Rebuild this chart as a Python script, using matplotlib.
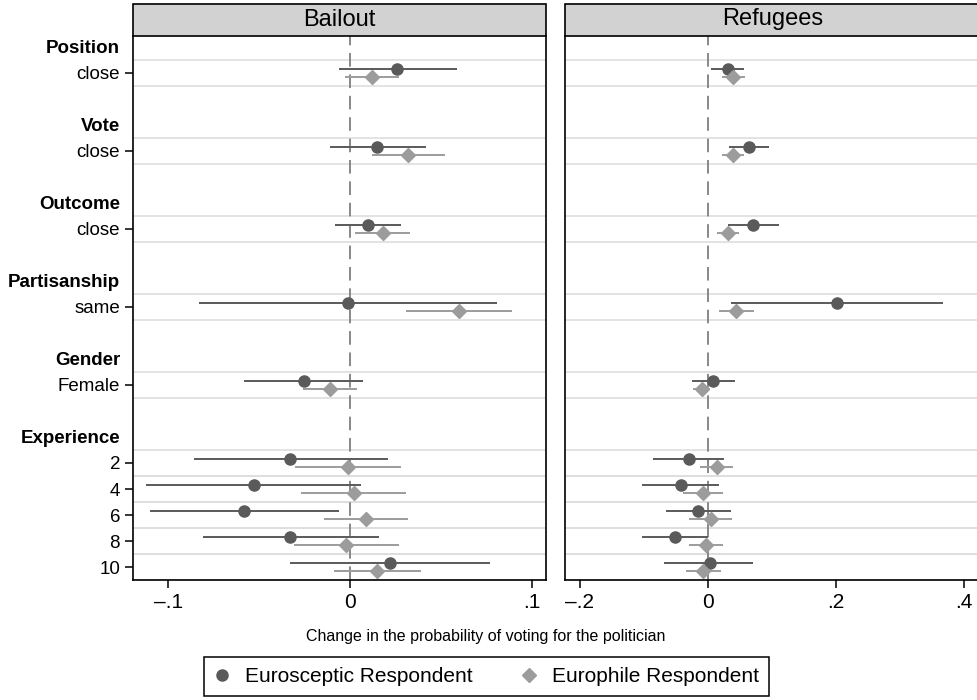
import numpy as np
import matplotlib.pyplot as plt
from matplotlib.patches import Rectangle
from matplotlib.lines import Line2D

plt.rcParams['font.family'] = ['Liberation Sans', 'DejaVu Sans']

# rows of the coefficient plot (top to bottom)
row_labels = ["close", "close", "close", "same", "Female", "2", "4", "6", "8", "10"]
row_pos = [19, 16, 13, 10, 7, 4, 3, 2, 1, 0]
group_labels = ["Position", "Vote", "Outcome", "Partisanship", "Gender", "Experience"]
group_pos = [20, 17, 14, 11, 8, 5]

# Bailout: point estimates and 95% CI
bail_scep = [0.026, 0.015, 0.010, -0.001, -0.025, -0.033, -0.053, -0.058, -0.033, 0.022]
bail_scep_lo = [-0.006, -0.011, -0.008, -0.083, -0.058, -0.086, -0.112, -0.110, -0.081, -0.033]
bail_scep_hi = [0.059, 0.042, 0.028, 0.081, 0.007, 0.021, 0.006, -0.006, 0.016, 0.077]
bail_phil = [0.012, 0.032, 0.018, 0.060, -0.011, -0.001, 0.002, 0.009, -0.002, 0.015]
bail_phil_lo = [-0.003, 0.012, 0.003, 0.031, -0.026, -0.030, -0.027, -0.014, -0.031, -0.009]
bail_phil_hi = [0.027, 0.052, 0.033, 0.089, 0.004, 0.028, 0.031, 0.032, 0.027, 0.039]

# Refugees
ref_scep = [0.031, 0.064, 0.070, 0.202, 0.009, -0.030, -0.042, -0.015, -0.051, 0.003]
ref_scep_lo = [0.005, 0.034, 0.031, 0.037, -0.024, -0.085, -0.102, -0.065, -0.102, -0.068]
ref_scep_hi = [0.056, 0.096, 0.111, 0.368, 0.042, 0.026, 0.018, 0.036, 0.000, 0.070]
ref_phil = [0.040, 0.040, 0.031, 0.044, -0.009, 0.014, -0.008, 0.005, -0.003, -0.007]
ref_phil_lo = [0.023, 0.022, 0.014, 0.017, -0.023, -0.012, -0.039, -0.029, -0.030, -0.034]
ref_phil_hi = [0.059, 0.057, 0.049, 0.072, 0.004, 0.040, 0.024, 0.038, 0.024, 0.021]

scep_color = "#5a5a5a"
phil_color = "#9c9c9c"
off = 0.17

W, H = 977, 700
fig = plt.figure(figsize=(W / 100, H / 100), dpi=100)
bot, top = 579.5, 36.0
right2 = 980.0
ax1 = fig.add_axes([132.6 / W, 1 - bot / H, (546.4 - 132.6) / W, (bot - top) / H])
ax2 = fig.add_axes([565.0 / W, 1 - bot / H, (right2 - 565.0) / W, (bot - top) / H])


def panel(ax, title, scep, slo, shi, phil, plo, phi, xlim, ticks, ticklabels):
    y = np.array(row_pos, dtype=float)
    for r in row_pos:
        ax.axhline(r - 0.5, color="#dedede", lw=1.2, zorder=0)
        ax.axhline(r + 0.5, color="#dedede", lw=1.2, zorder=0)
    ax.axvline(0, color="#888888", lw=1.4, dashes=(7, 4), zorder=1)
    ax.hlines(y + off, slo, shi, color=scep_color, lw=1.4, zorder=2)
    ax.hlines(y - off, plo, phi, color=phil_color, lw=1.4, zorder=2)
    ax.plot(scep, y + off, "o", ms=8, color=scep_color, mec=scep_color, zorder=3)
    ax.plot(phil, y - off, "D", ms=7.2, color=phil_color, mec=phil_color, zorder=3)
    ax.set_xlim(*xlim)
    ax.set_ylim(-0.48, 20.42)
    ax.set_xticks(ticks)
    ax.set_xticklabels(ticklabels, fontsize=15)
    ax.tick_params(axis="x", length=6, width=1.1, pad=4)
    for s in ax.spines.values():
        s.set_linewidth(1.2)
    ax.spines["top"].set_visible(False)
    ax.add_patch(Rectangle((0, 1), 1, 32.5 / (bot - top), transform=ax.transAxes,
                           clip_on=False, fc="#d2d2d2", ec="black", lw=1.2))
    ax.text(0.5, 1 + 16.5 / (bot - top), title, transform=ax.transAxes,
            ha="center", va="center", fontsize=17)


panel(ax1, "Bailout", bail_scep, bail_scep_lo, bail_scep_hi,
      bail_phil, bail_phil_lo, bail_phil_hi,
      (-0.1195, 0.108), [-0.1, 0, 0.1], ["\u2013.1", "0", ".1"])
panel(ax2, "Refugees", ref_scep, ref_scep_lo, ref_scep_hi,
      ref_phil, ref_phil_lo, ref_phil_hi,
      (-0.223, (right2 - 707.7) / 640), [-0.2, 0, 0.2, 0.4], ["\u2013.2", "0", ".2", ".4"])

# y axis: row labels with ticks, group headers in bold without ticks
yt = row_pos + group_pos
yl = row_labels + group_labels
ax1.set_yticks(yt)
ax1.set_yticklabels(yl, fontsize=13.5)
ax1.tick_params(axis="y", length=6, width=1.1, pad=3)
for i, t in enumerate(ax1.yaxis.get_major_ticks()):
    if i >= len(row_pos):
        t.tick1line.set_visible(False)
        t.label1.set_fontweight("bold")
ax2.set_yticks([])
ax2.spines["right"].set_visible(False)

fig.text(486 / W, 1 - 637 / H, "Change in the probability of voting for the politician",
         ha="center", va="center", fontsize=11.5)

handles = [Line2D([], [], ls="none", marker="o", ms=8, color=scep_color),
           Line2D([], [], ls="none", marker="D", ms=7.2, color=phil_color)]
leg = fig.legend(handles, ["Eurosceptic Respondent", "Europhile Respondent"],
                 loc="center", bbox_to_anchor=(486.5 / W, 1 - 676.5 / H), ncol=2,
                 fontsize=15, frameon=True, fancybox=False, edgecolor="black",
                 framealpha=1, borderpad=0.5, handletextpad=0.7, columnspacing=2.3,
                 handlelength=0.8)
leg.get_frame().set_linewidth(1.1)

fig.savefig("out.png", dpi=100)
